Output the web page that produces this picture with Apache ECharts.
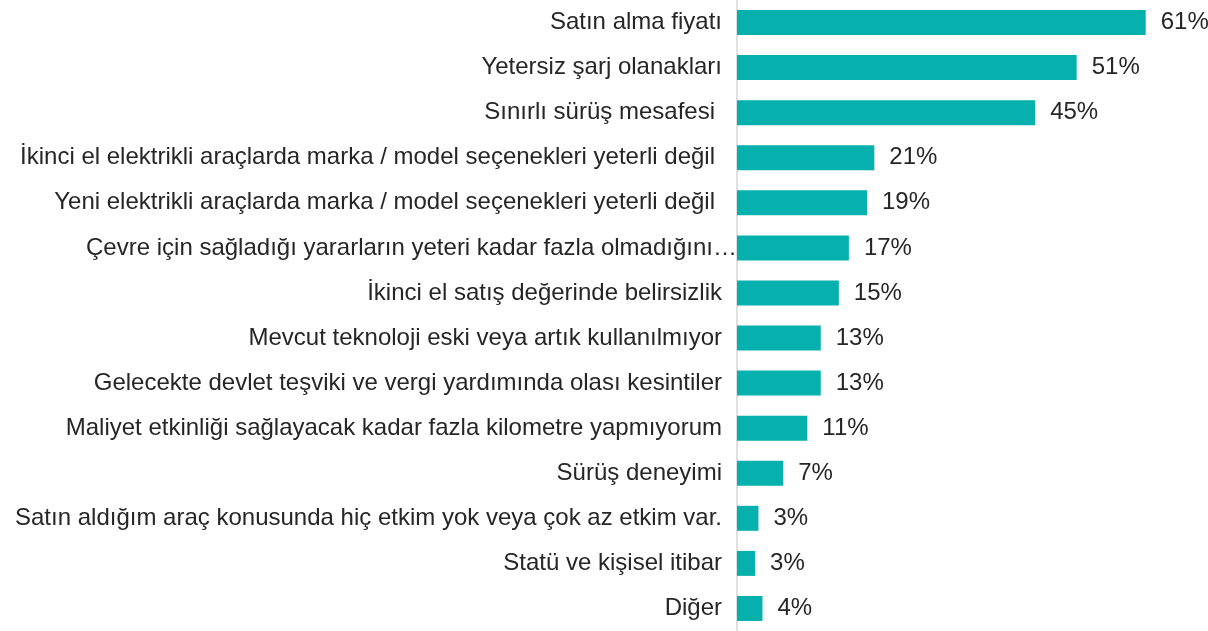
<!DOCTYPE html>
<html>
<head>
<meta charset="utf-8">
<script src="https://cdn.jsdelivr.net/npm/echarts@6/dist/echarts.min.js"></script>
<style>
    html, body { margin: 0; padding: 0; background: #fff; }
    #chart { width: 1208px; height: 631px; }
</style>
</head>
<body>
<div id="chart"></div>
<script>
// kategoriler (yukaridan asagiya)
var categories = [
    'Satın alma fiyatı',
    'Yetersiz şarj olanakları',
    'Sınırlı sürüş mesafesi',
    'İkinci el elektrikli araçlarda marka / model seçenekleri yeterli değil',
    'Yeni elektrikli araçlarda marka / model seçenekleri yeterli değil',
    'Çevre için sağladığı yararların yeteri kadar fazla olmadığını…',
    'İkinci el satış değerinde belirsizlik',
    'Mevcut teknoloji eski veya artık kullanılmıyor',
    'Gelecekte devlet teşviki ve vergi yardımında olası kesintiler',
    'Maliyet etkinliği sağlayacak kadar fazla kilometre yapmıyorum',
    'Sürüş deneyimi',
    'Satın aldığım araç konusunda hiç etkim yok veya çok az etkim var.',
    'Statü ve kişisel itibar',
    'Diğer'
];
// yuzdeler
var values = [61, 50.7, 44.5, 20.5, 19.4, 16.7, 15.2, 12.5, 12.5, 10.5, 6.9, 3.2, 2.7, 3.8];

// etiketlerin saga kaymasi (orijinaldeki bosluklar)
var labelShift = {2: 7, 3: 7, 4: 7, 5: -15};

var chart = echarts.init(document.getElementById('chart'));

var yData = categories.map(function (name, i) {
    if (labelShift[i] !== undefined) {
        return {value: name, textStyle: {padding: [0, labelShift[i], 0, 0]}};
    }
    return name;
});

chart.setOption({
    animation: false,
    textStyle: {fontFamily: 'Liberation Sans, Arial, sans-serif'},
    grid: {
        left: 737,
        right: 2,
        top: 0,
        height: 635
    },
    xAxis: {
        type: 'value',
        min: 0,
        max: 70,
        show: false
    },
    yAxis: {
        type: 'category',
        inverse: true,
        data: yData,
        axisTick: {show: false},
        axisLine: {
            show: true,
            lineStyle: {color: '#d6d6d6', width: 1.5}
        },
        axisLabel: {
            margin: 15,
            color: '#262626',
            fontSize: 24,
            fontFamily: 'Liberation Sans, Arial, sans-serif'
        }
    },
    series: [
        {
            type: 'bar',
            data: values,
            barWidth: 25,
            itemStyle: {color: '#06b0ad'},
            label: {
                show: true,
                position: 'right',
                distance: 15,
                color: '#262626',
                fontSize: 24,
                fontFamily: 'Liberation Sans, Arial, sans-serif',
                formatter: function (p) {
                    return Math.round(p.value) + '%';
                }
            }
        }
    ]
});
</script>
</body>
</html>
